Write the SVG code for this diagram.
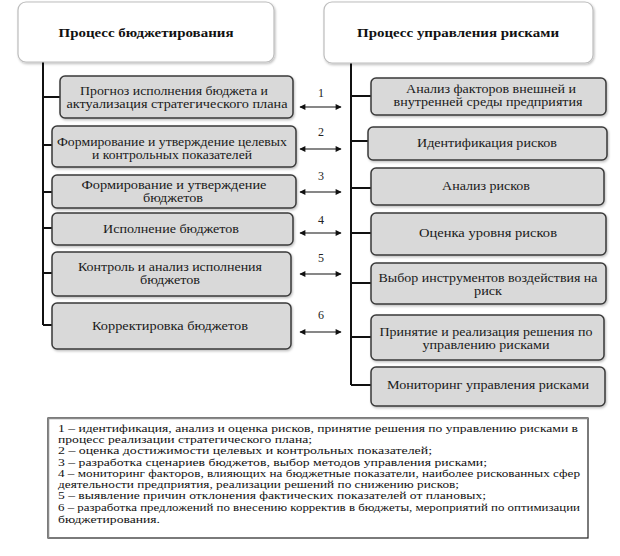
<svg xmlns="http://www.w3.org/2000/svg" width="620" height="556" viewBox="0 0 620 556">
<style>
.hdr{fill:#fff;stroke:#bdbdbd;stroke-width:1.2}
.box{fill:#d9d9d9;stroke:#3a3a3a;stroke-width:1.5}
text{font-family:'Liberation Serif','Times New Roman',serif}
.t{font-size:12px;fill:#1a1a1a;text-anchor:middle}
.h{font-size:13px;font-weight:bold;fill:#111;text-anchor:middle}
.n{font-size:12px;fill:#222;text-anchor:middle}
.lg{font-size:11px;fill:#111}
.ln{fill:none;stroke:#111;stroke-width:2}
.ar{fill:none;stroke:#111;stroke-width:1.2;marker-start:url(#ah);marker-end:url(#ah)}
</style>
<defs>
<marker id="ah" viewBox="0 0 10 10" refX="9" refY="5" markerWidth="7" markerHeight="6" markerUnits="userSpaceOnUse" orient="auto-start-reverse">
<path d="M0,0 L10,5 L0,10 Z" fill="#111"/>
</marker>
<filter id="sh" x="-5%" y="-10%" width="110%" height="130%">
<feDropShadow dx="1" dy="1.5" stdDeviation="1" flood-color="#000" flood-opacity="0.25"/>
</filter>
</defs>
<rect width="620" height="556" fill="#fff"/>

<g id="connectors">
<path class="ln" d="M43,62 V325 M43,97 H60 M43,145 H52 M43,192 H52 M43,228 H52 M43,273 H52 M43,325 H52"/>
<path class="ln" d="M351,63 V385 M351,96 H371 M351,141 H368 M351,188 H371 M351,233 H371 M351,283 H371 M351,337 H371 M351,385 H372"/>
<line class="ar" x1="300" y1="107" x2="341" y2="107"/>
<line class="ar" x1="300" y1="149" x2="341" y2="149"/>
<line class="ar" x1="300" y1="192" x2="341" y2="192"/>
<line class="ar" x1="300" y1="233" x2="341" y2="233"/>
<line class="ar" x1="300" y1="274" x2="341" y2="274"/>
<line class="ar" x1="300" y1="332" x2="341" y2="332"/>
<text class="n" x="321" y="97">1</text>
<text class="n" x="321" y="136">2</text>
<text class="n" x="321" y="180">3</text>
<text class="n" x="321" y="224">4</text>
<text class="n" x="321" y="262">5</text>
<text class="n" x="321" y="319">6</text>
</g>

<g id="hdr-budget">
<rect class="hdr" x="18" y="2" width="256" height="60" rx="8" filter="url(#sh)"/>
<text class="h" x="146" y="37" textLength="175" lengthAdjust="spacingAndGlyphs">Процесс  бюджетирования</text>
</g>
<g id="hdr-risk">
<rect class="hdr" x="324" y="2" width="269" height="61" rx="8" filter="url(#sh)"/>
<text class="h" x="458" y="37" textLength="202" lengthAdjust="spacingAndGlyphs">Процесс  управления  рисками</text>
</g>

<g id="b1">
<rect class="box" x="60" y="76" width="233" height="42" rx="5" filter="url(#sh)"/>
<text class="t" x="174" y="95" textLength="188" lengthAdjust="spacingAndGlyphs">Прогноз исполнения бюджета и</text>
<text class="t" x="177" y="108" textLength="221" lengthAdjust="spacingAndGlyphs">актуализация стратегического плана</text>
</g>
<g id="b2">
<rect class="box" x="52" y="126" width="244" height="41" rx="5" filter="url(#sh)"/>
<text class="t" x="172" y="145.5" textLength="230" lengthAdjust="spacingAndGlyphs">Формирование и утверждение целевых</text>
<text class="t" x="172" y="158.5" textLength="160" lengthAdjust="spacingAndGlyphs">и контрольных показателей</text>
</g>
<g id="b3">
<rect class="box" x="52" y="175" width="244" height="33" rx="5" filter="url(#sh)"/>
<text class="t" x="174" y="188.5" textLength="185" lengthAdjust="spacingAndGlyphs">Формирование и утверждение</text>
<text class="t" x="173" y="201.5" textLength="60" lengthAdjust="spacingAndGlyphs">бюджетов</text>
</g>
<g id="b4">
<rect class="box" x="52" y="213" width="241" height="32" rx="5" filter="url(#sh)"/>
<text class="t" x="171" y="233" textLength="136" lengthAdjust="spacingAndGlyphs">Исполнение  бюджетов</text>
</g>
<g id="b5">
<rect class="box" x="52" y="252" width="239" height="44" rx="5" filter="url(#sh)"/>
<text class="t" x="170" y="271" textLength="184" lengthAdjust="spacingAndGlyphs">Контроль и анализ  исполнения</text>
<text class="t" x="170" y="284" textLength="60" lengthAdjust="spacingAndGlyphs">бюджетов</text>
</g>
<g id="b6">
<rect class="box" x="52" y="303" width="239" height="46" rx="5" filter="url(#sh)"/>
<text class="t" x="170" y="330" textLength="156" lengthAdjust="spacingAndGlyphs">Корректировка бюджетов</text>
</g>

<g id="r1">
<rect class="box" x="371" y="78" width="235" height="37" rx="5" filter="url(#sh)"/>
<text class="t" x="491" y="93" textLength="170" lengthAdjust="spacingAndGlyphs">Анализ факторов внешней и</text>
<text class="t" x="488" y="106" textLength="189" lengthAdjust="spacingAndGlyphs">внутренней среды предприятия</text>
</g>
<g id="r2">
<rect class="box" x="368" y="127" width="239" height="33" rx="5" filter="url(#sh)"/>
<text class="t" x="487" y="147" textLength="140" lengthAdjust="spacingAndGlyphs">Идентификация рисков</text>
</g>
<g id="r3">
<rect class="box" x="371" y="168" width="233" height="37" rx="5" filter="url(#sh)"/>
<text class="t" x="486" y="190" textLength="88" lengthAdjust="spacingAndGlyphs">Анализ рисков</text>
</g>
<g id="r4">
<rect class="box" x="371" y="213" width="235" height="42" rx="5" filter="url(#sh)"/>
<text class="t" x="488" y="237" textLength="138" lengthAdjust="spacingAndGlyphs">Оценка уровня рисков</text>
</g>
<g id="r5">
<rect class="box" x="371" y="263" width="235" height="41" rx="5" filter="url(#sh)"/>
<text class="t" x="488" y="281.5" textLength="219" lengthAdjust="spacingAndGlyphs">Выбор инструментов воздействия на</text>
<text class="t" x="488" y="294.5" textLength="28" lengthAdjust="spacingAndGlyphs">риск</text>
</g>
<g id="r6">
<rect class="box" x="371" y="315" width="233" height="45" rx="5" filter="url(#sh)"/>
<text class="t" x="486" y="335.5" textLength="213" lengthAdjust="spacingAndGlyphs">Принятие и реализация решения по</text>
<text class="t" x="486" y="348.5" textLength="127" lengthAdjust="spacingAndGlyphs">управлению рисками</text>
</g>
<g id="r7">
<rect class="box" x="371" y="367" width="234" height="39" rx="5" filter="url(#sh)"/>
<text class="t" x="488" y="389" textLength="202" lengthAdjust="spacingAndGlyphs">Мониторинг управления рисками</text>
</g>

<g id="legend">
<rect x="48" y="418" width="540" height="120" fill="#fff" stroke="#222" stroke-width="1.2"/>
<path d="M48.5,538 V418.5 H588" fill="none" stroke="#888" stroke-width="1.5"/>
<text class="lg" x="58" y="432" textLength="520" lengthAdjust="spacingAndGlyphs">1 – идентификация, анализ и оценка рисков, принятие решения по управлению рисками в</text>
<text class="lg" x="58" y="443" textLength="254" lengthAdjust="spacingAndGlyphs">процесс реализации стратегического плана;</text>
<text class="lg" x="58" y="454" textLength="374" lengthAdjust="spacingAndGlyphs">2 – оценка достижимости целевых и контрольных показателей;</text>
<text class="lg" x="58" y="466" textLength="429" lengthAdjust="spacingAndGlyphs">3 – разработка сценариев бюджетов, выбор методов управления рисками;</text>
<text class="lg" x="58" y="477" textLength="522" lengthAdjust="spacingAndGlyphs">4 – мониторинг факторов, влияющих на бюджетные показатели, наиболее рискованных сфер</text>
<text class="lg" x="58" y="488" textLength="401" lengthAdjust="spacingAndGlyphs">деятельности предприятия, реализации решений по снижению рисков;</text>
<text class="lg" x="58" y="499" textLength="428" lengthAdjust="spacingAndGlyphs">5 – выявление причин отклонения фактических показателей от плановых;</text>
<text class="lg" x="58" y="511" textLength="522" lengthAdjust="spacingAndGlyphs">6 – разработка предложений по внесению корректив в бюджеты, мероприятий по оптимизации</text>
<text class="lg" x="58" y="523" textLength="102" lengthAdjust="spacingAndGlyphs">бюджетирования.</text>
</g>
</svg>
